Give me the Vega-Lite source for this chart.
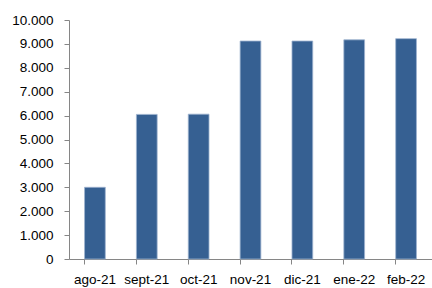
{
  "$schema": "https://vega.github.io/schema/vega-lite/v6.json",
  "autosize": "none",
  "width": 363,
  "height": 239,
  "padding": {"left": 69, "top": 20, "right": 0, "bottom": 29},
  "config": {
    "locale": {"number": {"decimal": ",", "thousands": ".", "grouping": [3], "currency": ["", " €"]}},
    "view": {"stroke": null},
    "font": "Liberation Sans"
  },
  "data": {"values": [
    {"mes": "ago-21", "valor": 3000},
    {"mes": "sept-21", "valor": 6050},
    {"mes": "oct-21", "valor": 6060},
    {"mes": "nov-21", "valor": 9120},
    {"mes": "dic-21", "valor": 9120},
    {"mes": "ene-22", "valor": 9170},
    {"mes": "feb-22", "valor": 9220}
  ]},
  "mark": {"type": "bar", "color": "#366092", "stroke": "#9db3cf", "strokeWidth": 0.8},
  "encoding": {
    "x": {
      "field": "mes", "type": "nominal", "sort": null,
      "scale": {"paddingInner": 0.6, "paddingOuter": 0.3},
      "axis": {"title": null, "labelAngle": 0, "labelFontSize": 13.5, "labelColor": "#000", "labelPadding": 8,
               "domainColor": "#868686", "tickColor": "#868686", "tickSize": 5, "bandPosition": 0, "labelFont": "Liberation Sans"}
    },
    "y": {
      "field": "valor", "type": "quantitative",
      "scale": {"domain": [0, 10000], "nice": false},
      "axis": {"title": null, "values": [0,1000,2000,3000,4000,5000,6000,7000,8000,9000,10000], "format": ",d",
               "grid": false, "labelFontSize": 13.5, "labelColor": "#000", "labelPadding": 11,
               "domainColor": "#868686", "tickColor": "#868686", "tickSize": 5, "labelFont": "Liberation Sans"}
    }
  }
}
